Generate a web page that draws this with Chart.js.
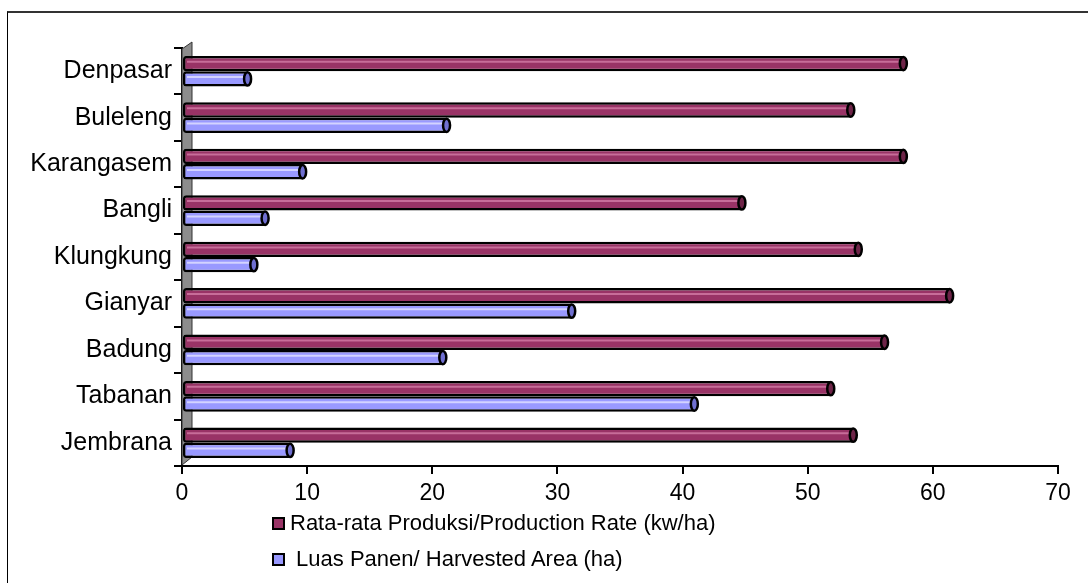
<!DOCTYPE html>
<html>
<head>
<meta charset="utf-8">
<script src="https://cdn.jsdelivr.net/npm/chart.js@4/dist/chart.umd.min.js"></script>
<style>
    body { margin: 0; background: #fff; }
    #wrap { position: relative; width: 1088px; height: 583px; overflow: hidden; }
    #frame { position: absolute; left: 7px; top: 11px; width: 1200px; height: 700px;
             border-top: 2px solid #333; border-left: 1px solid #000; }
    #legend { position: absolute; left: 272px; top: 505px; font-family: 'Liberation Sans', Arial, sans-serif;
              font-size: 22px; color: #000; }
    .item { height: 36px; display: flex; align-items: center; }
    .box { width: 9px; height: 9px; border: 2px solid #000; margin-right: 5px; }
</style>
</head>
<body>
<div id="wrap">
    <div id="frame"></div>
    <canvas id="chart" width="1088" height="583"></canvas>
    <div id="legend"></div>
</div>
<script>
const regencies = ['Denpasar', 'Buleleng', 'Karangasem', 'Bangli', 'Klungkung', 'Gianyar', 'Badung', 'Tabanan', 'Jembrana']
const productionRate = [57.8, 53.6, 57.8, 44.9, 54.2, 61.5, 56.3, 52.0, 53.8]
const harvestedArea = [5.4, 21.3, 9.8, 6.8, 5.9, 31.3, 21.0, 41.1, 8.8]
const xTicks = [0, 10, 20, 30, 40, 50, 60, 70]

const seriesLabels = ['Rata-rata Produksi/Production Rate (kw/ha)', ' Luas Panen/ Harvested Area (ha)']
const seriesColors = ['#993366', '#9999ff']
const capColors = ['#6e2448', '#6f6fd0']
const stripeColors = ['rgba(255,180,215,0.45)', 'rgba(235,235,255,0.7)']

const fontFamily = "'Liberation Sans', Arial, sans-serif"

// grey back wall next to the category axis
const wallPlugin = {
    id: 'wall',
    beforeDatasetsDraw(chart) {
        const a = chart.chartArea
        const ctx = chart.ctx
        ctx.save()
        ctx.fillStyle = '#8c8c8c'
        ctx.strokeStyle = '#333'
        ctx.lineWidth = 1
        ctx.beginPath()
        ctx.moveTo(a.left, a.top + 1)
        ctx.lineTo(a.left + 10, a.top - 6)
        ctx.lineTo(a.left + 10, a.bottom - 9)
        ctx.lineTo(a.left, a.bottom - 1)
        ctx.closePath()
        ctx.fill()
        ctx.stroke()
        ctx.restore()
    }
}

// cylinder look: light stripe and end cap on every bar
const cylinderPlugin = {
    id: 'cylinder',
    afterDatasetsDraw(chart) {
        const ctx = chart.ctx
        chart.data.datasets.forEach((ds, di) => {
            const meta = chart.getDatasetMeta(di)
            meta.data.forEach(bar => {
                const h = bar.height
                ctx.save()
                ctx.strokeStyle = stripeColors[di]
                ctx.lineWidth = 2
                ctx.beginPath()
                ctx.moveTo(bar.base + 4, bar.y - h * 0.12)
                ctx.lineTo(bar.x - 5, bar.y - h * 0.12)
                ctx.stroke()
                ctx.fillStyle = capColors[di]
                ctx.strokeStyle = '#000'
                ctx.lineWidth = 2.5
                ctx.beginPath()
                ctx.ellipse(bar.x - 2, bar.y, 3.5, h / 2 - 1, 0, 0, Math.PI * 2)
                ctx.fill()
                ctx.stroke()
                ctx.restore()
            })
        })
    }
}

const ctx = document.getElementById('chart').getContext('2d')
const chart = new Chart(ctx, {
    type: 'bar',
    data: {
        labels: regencies,
        datasets: [{
            label: seriesLabels[0],
            data: productionRate,
            backgroundColor: seriesColors[0],
            borderColor: '#000',
            borderWidth: 2.5,
            borderSkipped: false,
            borderRadius: 3,
        }, {
            label: seriesLabels[1],
            data: harvestedArea,
            backgroundColor: seriesColors[1],
            borderColor: '#000',
            borderWidth: 2.5,
            borderSkipped: false,
            borderRadius: 3,
        }]
    },
    options: {
        indexAxis: 'y',
        responsive: false,
        animation: false,
        categoryPercentage: 0.66,
        barPercentage: 1.0,
        layout: {
            padding: { left: 0, right: 30, top: 48, bottom: 77 }
        },
        scales: {
            x: {
                min: 0,
                max: 70,
                afterBuildTicks: (scale) => { scale.ticks = xTicks.map(v => ({ value: v })) },
                afterFit: (scale) => { scale.height = 40 },
                ticks: {
                    color: '#000',
                    padding: 6,
                    font: { family: fontFamily, size: 23 },
                },
                grid: {
                    drawOnChartArea: false,
                    color: '#000',
                    tickLength: 8,
                    lineWidth: 2,
                },
                border: { color: '#000', width: 2 },
            },
            y: {
                afterFit: (scale) => { scale.width = 182 },
                ticks: {
                    color: '#000',
                    padding: 2,
                    font: { family: fontFamily, size: 25 },
                },
                grid: {
                    drawOnChartArea: false,
                    offset: true,
                    color: '#000',
                    tickLength: 8,
                    lineWidth: 2,
                },
                border: { color: '#000', width: 2 },
            },
        },
        plugins: {
            legend: { display: false },
            tooltip: { enabled: false },
        }
    },
    plugins: [wallPlugin, cylinderPlugin]
})

// legend below the axis, one row per series
const legend = document.getElementById('legend')
seriesLabels.forEach((label, i) => {
    const row = document.createElement('div')
    row.className = 'item'
    const box = document.createElement('div')
    box.className = 'box'
    box.style.background = seriesColors[i]
    const txt = document.createElement('span')
    txt.textContent = label
    txt.style.whiteSpace = 'pre'
    row.appendChild(box)
    row.appendChild(txt)
    legend.appendChild(row)
})
</script>
</body>
</html>
